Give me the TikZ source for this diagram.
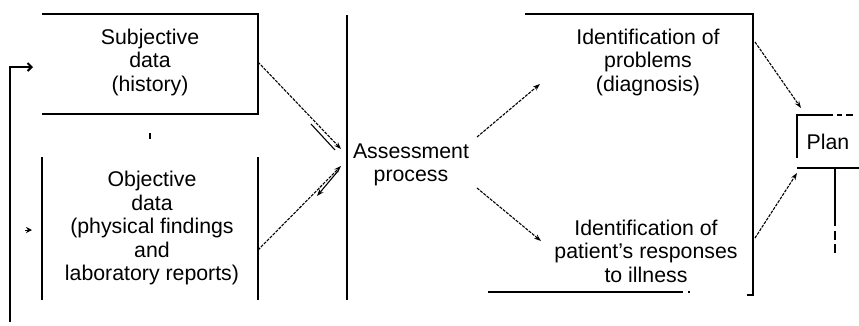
\documentclass[tikz,border=0pt]{standalone}
\usepackage{fontspec}
\setmainfont{Liberation Sans}
\usetikzlibrary{arrows.meta}
\begin{document}
\begin{tikzpicture}[x=1pt,y=-1pt,
  box/.style={line width=2pt, line cap=butt},
  flow/.style={line width=1.1pt, dash pattern=on 3pt off 1.2pt, -{Stealth[length=7pt,width=5pt]}},
  txt/.style={align=center, font=\fontsize{21.3}{23.5}\selectfont, inner sep=0pt}]
\useasboundingbox (0,0) rectangle (859,325);
% text nodes
\node[txt] (subj) at (150,62) {Subjective\\data\\(history)};
\node[txt] (obj) at (152,228) {Objective\\data\\(physical findings\\and\\laboratory reports)};
\node[txt] (assess) at (411,165) {Assessment\\process};
\node[txt] (prob) at (648,62) {Identification of\\problems\\(diagnosis)};
\node[txt] (resp) at (646,251) {Identification of\\patient’s responses\\to illness};
\node[txt] (plan) at (828,142) {Plan};
% subjective box (no left edge)
\draw[box] (42,14) -- (258,14) -- (258,114) -- (42,114);
\fill (149,133) rectangle (151.4,139);
% objective box (side lines only)
\draw[box] (42,157) -- (42,300);
\draw[box] (258,157) -- (258,300);
% feedback line
\coordinate (fb0) at (10,322);
\coordinate (fb1) at (10,67);
\coordinate (fb2) at (33,67);
\draw[box, -{Straight Barb[length=4pt,width=8pt]}] (fb0) -- (fb1) -- (fb2);
\coordinate (mk0) at (25,230);
\coordinate (mk1) at (32,230);
\draw[line width=1pt, -{Stealth[length=6pt,width=6pt]}] (mk0) -- (mk1);
% assessment line
\draw[box] (347,15) -- (347,300);
% right box
\draw[box] (525,14) -- (753,14) -- (753,295) -- (747,295);
\draw[box] (488,292) -- (683,292);
\fill (688,291) rectangle (690,293);
% plan box
\draw[box] (797,158) -- (797,115) -- (833,115);
\draw[box] (837,115) -- (842,115);
\draw[box] (846,115) -- (853,115);
\draw[box] (797,168) -- (859,168);
\draw[box] (835,168) -- (835,226);
\draw[box] (835,231) -- (835,240);
\draw[box] (835,244) -- (835,253);
% connectors
\coordinate (s1) at (258,62);
\coordinate (a1) at (341,149);
\draw[flow] (s1) -- (a1);
\draw[line width=1.1pt] (311,124) -- (335,150);
\coordinate (o1) at (258,250);
\coordinate (a2) at (341,166);
\draw[flow] (o1) -- (a2);
\coordinate (d1) at (338,171);
\coordinate (d2) at (317,196);
\draw[line width=1.1pt, -{Stealth[length=7pt,width=5pt]}] (d1) -- (d2);
\coordinate (p0) at (477,137);
\coordinate (p1) at (540,84);
\draw[flow] (p0) -- (p1);
\coordinate (r0) at (477,188);
\coordinate (r1) at (541,241);
\draw[flow] (r0) -- (r1);
\coordinate (q0) at (755,42);
\coordinate (q1) at (801,108);
\draw[flow] (q0) -- (q1);
\coordinate (t0) at (755,238);
\coordinate (t1) at (797,173);
\draw[flow] (t0) -- (t1);
\end{tikzpicture}
\end{document}
